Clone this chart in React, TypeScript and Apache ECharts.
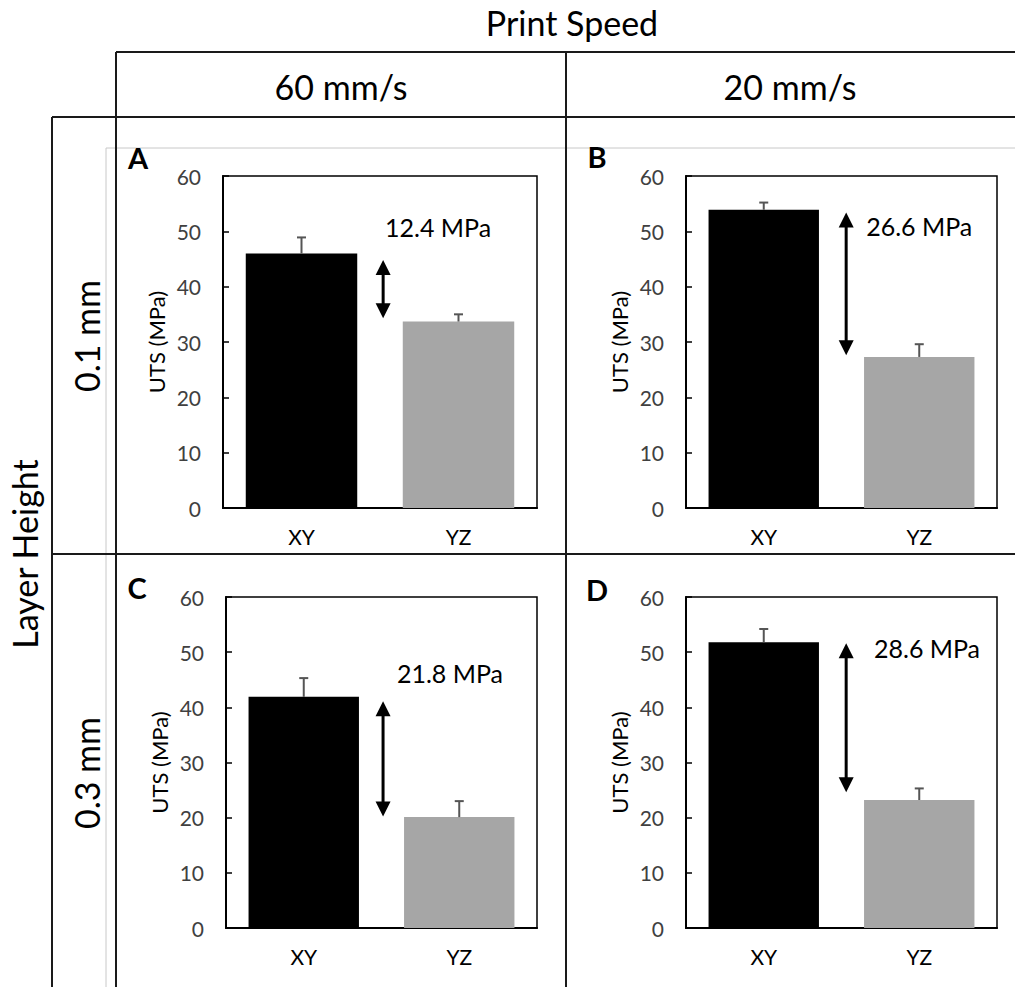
import React, { useEffect, useRef } from "react";
import * as echarts from "echarts";

// ---- data ----
const categories = ["XY", "YZ"];
const panelLetters = ["A", "B", "C", "D"];
const xyMeans = [46.0, 53.9, 41.9, 51.8];
const xyErrors = [2.9, 1.3, 3.4, 2.4];
const yzMeans = [33.7, 27.3, 20.1, 23.2];
const yzErrors = [1.3, 2.3, 2.9, 2.1];
const differenceLabels = ["12.4 MPa", "26.6 MPa", "21.8 MPa", "28.6 MPa"];
const arrowTops = [44.8, 53.4, 41.1, 51.6];
const arrowBottoms = [34.3, 27.6, 20.2, 24.6];
const yMin = 0;
const yMax = 60;
const yInterval = 10;
const speedLabels = ["60 mm/s", "20 mm/s"];
const layerLabels = ["0.1 mm", "0.3 mm"];
const columnTitle = "Print Speed";
const rowTitle = "Layer Height";
const yAxisTitle = "UTS (MPa)";

// ---- layout (pixels / positions, not data) ----
const FONT = "Lato, 'Open Sans', sans-serif";
const grids = [
  { left: 223, top: 176, width: 314, height: 332 },
  { left: 686, top: 176, width: 311, height: 332 },
  { left: 226, top: 597, width: 311, height: 331 },
  { left: 686, top: 597, width: 311, height: 331 },
];
const arrowXPos = [1.02, 1.03, 1.01, 1.03];
const labelXPos = [1.37, 1.5, 1.44, 1.55];
const labelYPos = [50.8, 51.0, 46.3, 50.7];
const letterPos = [
  [138, 157],
  [597, 156],
  [137, 587],
  [597, 589],
];

function buildOption() {
  const grid: any[] = [];
  const xAxis: any[] = [];
  const yAxis: any[] = [];
  const series: any[] = [];

  grids.forEach((g, i) => {
    grid.push({
      ...g,
      show: true,
      borderColor: "#000",
      borderWidth: 1.5,
      backgroundColor: "transparent",
    });
    xAxis.push({
      type: "category",
      gridIndex: i,
      data: categories,
      axisLine: { show: true, lineStyle: { color: "#000", width: 2 } },
      axisTick: { show: false },
      axisLabel: { fontSize: 21, color: "#000", margin: 18, fontFamily: FONT },
      splitLine: { show: false },
    });
    xAxis.push({
      type: "value",
      gridIndex: i,
      min: 0,
      max: 2,
      show: false,
      splitLine: { show: false },
    });
    yAxis.push({
      type: "value",
      gridIndex: i,
      min: yMin,
      max: yMax,
      interval: yInterval,
      name: yAxisTitle,
      nameLocation: "middle",
      nameGap: 56,
      nameTextStyle: { fontSize: 22, color: "#000", fontFamily: FONT },
      axisLine: { show: true, lineStyle: { color: "#000", width: 2 } },
      axisTick: { show: true, inside: true, length: 6, lineStyle: { color: "#000", width: 1.5 } },
      axisLabel: { fontSize: 21, color: "#404040", margin: 22, fontFamily: FONT },
      splitLine: { show: false },
    });

    series.push({
      type: "bar",
      xAxisIndex: 2 * i,
      yAxisIndex: i,
      barWidth: "71%",
      data: [
        { value: xyMeans[i], itemStyle: { color: "#000000" } },
        { value: yzMeans[i], itemStyle: { color: "#a6a6a6" } },
      ],
      z: 2,
    });

    series.push({
      type: "custom",
      xAxisIndex: 2 * i,
      yAxisIndex: i,
      z: 3,
      data: [
        [0, xyMeans[i], xyErrors[i]],
        [1, yzMeans[i], yzErrors[i]],
      ],
      renderItem: (params: any, api: any) => {
        const base = api.coord([api.value(0), api.value(1)]);
        const top = api.coord([api.value(0), api.value(1) + api.value(2)]);
        const style = { stroke: "#555555", lineWidth: 2 };
        return {
          type: "group",
          children: [
            { type: "line", shape: { x1: base[0], y1: base[1], x2: top[0], y2: top[1] }, style },
            { type: "line", shape: { x1: top[0] - 4.5, y1: top[1], x2: top[0] + 4.5, y2: top[1] }, style },
          ],
        };
      },
    });

    series.push({
      type: "custom",
      xAxisIndex: 2 * i + 1,
      yAxisIndex: i,
      z: 4,
      data: [[arrowXPos[i], arrowTops[i], arrowBottoms[i], labelXPos[i], labelYPos[i]]],
      renderItem: (params: any, api: any) => {
        const p1 = api.coord([api.value(0), api.value(1)]);
        const p2 = api.coord([api.value(0), api.value(2)]);
        const lp = api.coord([api.value(3), api.value(4)]);
        const hh = 15;
        const hw = 7.5;
        const x = p1[0];
        return {
          type: "group",
          children: [
            {
              type: "line",
              shape: { x1: x, y1: p1[1] + hh - 2, x2: x, y2: p2[1] - hh + 2 },
              style: { stroke: "#000", lineWidth: 3 },
            },
            {
              type: "polygon",
              shape: { points: [[x, p1[1]], [x - hw, p1[1] + hh], [x + hw, p1[1] + hh]] },
              style: { fill: "#000" },
            },
            {
              type: "polygon",
              shape: { points: [[x, p2[1]], [x - hw, p2[1] - hh], [x + hw, p2[1] - hh]] },
              style: { fill: "#000" },
            },
            {
              type: "text",
              x: lp[0],
              y: lp[1],
              style: {
                text: differenceLabels[i],
                fontSize: 25,
                fontFamily: FONT,
                fill: "#000",
                align: "center",
                verticalAlign: "middle",
              },
            },
          ],
        };
      },
    });
  });

  const lineStyle = { stroke: "#1a1a1a", lineWidth: 2 };
  const grayStyle = { stroke: "#c8c8c8", lineWidth: 1 };
  const bigText = (text: string, x: number, y: number, rotation = 0) => ({
    type: "text",
    x,
    y,
    rotation,
    style: { text, fontSize: 34, fontFamily: FONT, fill: "#000", align: "center", verticalAlign: "middle" },
  });
  const graphic: any[] = [
    { type: "line", shape: { x1: 106, y1: 148, x2: 1015, y2: 148 }, style: grayStyle },
    { type: "line", shape: { x1: 106, y1: 148, x2: 106, y2: 987 }, style: grayStyle },
    { type: "line", shape: { x1: 116, y1: 52, x2: 1015, y2: 52 }, style: lineStyle },
    { type: "line", shape: { x1: 52, y1: 117, x2: 1015, y2: 117 }, style: lineStyle },
    { type: "line", shape: { x1: 52, y1: 554, x2: 1015, y2: 554 }, style: lineStyle },
    { type: "line", shape: { x1: 52, y1: 117, x2: 52, y2: 987 }, style: lineStyle },
    { type: "line", shape: { x1: 116, y1: 52, x2: 116, y2: 987 }, style: lineStyle },
    { type: "line", shape: { x1: 566, y1: 52, x2: 566, y2: 987 }, style: lineStyle },
    bigText(columnTitle, 572, 22),
    bigText(speedLabels[0], 341, 86),
    bigText(speedLabels[1], 790, 86),
    bigText(layerLabels[0], 86, 336, Math.PI / 2),
    bigText(layerLabels[1], 86, 773, Math.PI / 2),
    bigText(rowTitle, 24, 554, Math.PI / 2),
  ];
  panelLetters.forEach((l, i) => {
    graphic.push({
      type: "text",
      x: letterPos[i][0],
      y: letterPos[i][1],
      style: {
        text: l,
        fontSize: 29,
        fontWeight: "bold",
        fontFamily: FONT,
        fill: "#000",
        align: "center",
        verticalAlign: "middle",
      },
    });
  });

  return {
    animation: false,
    backgroundColor: "#ffffff",
    grid,
    xAxis,
    yAxis,
    series,
    graphic,
  };
}

export default function App() {
  const ref = useRef<HTMLDivElement>(null);
  useEffect(() => {
    if (!ref.current) return;
    const chart = echarts.init(ref.current, null, { renderer: "svg" });
    chart.setOption(buildOption() as any);
    return () => chart.dispose();
  }, []);
  return (
    <div
      ref={ref}
      style={{ position: "absolute", left: 0, top: 0, width: 1015, height: 987, background: "#fff" }}
    />
  );
}
